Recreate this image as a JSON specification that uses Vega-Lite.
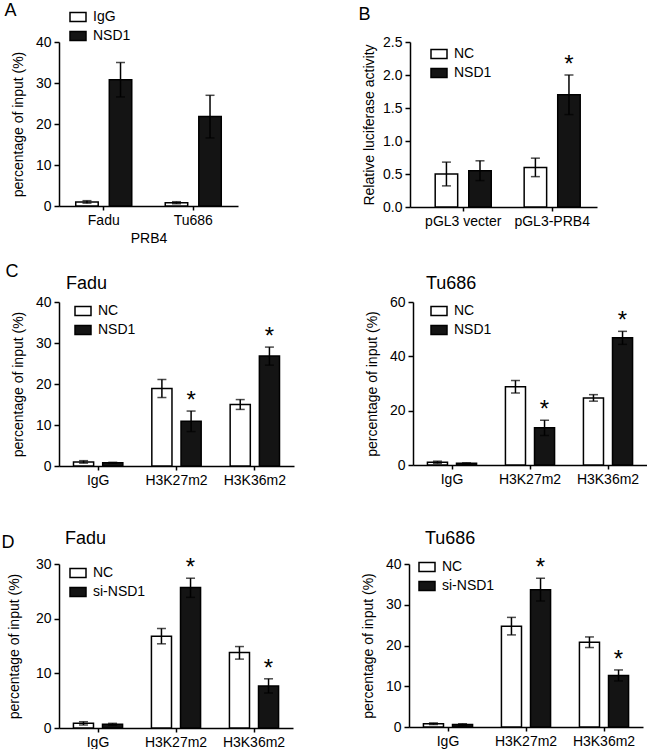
{
"$schema":"https://vega.github.io/schema/vega-lite/v6.json",
"padding":{"left":1,"top":2,"right":0,"bottom":0},
"data":{"values":[
{"panel":"A","group":"Fadu","series":"IgG","value":1.0,"lo":0.7,"hi":1.3,"star":""},
{"panel":"A","group":"Fadu","series":"NSD1","value":30.8,"lo":26.6,"hi":35.0,"star":""},
{"panel":"A","group":"Tu686","series":"IgG","value":0.8,"lo":0.55,"hi":1.05,"star":""},
{"panel":"A","group":"Tu686","series":"NSD1","value":21.8,"lo":16.6,"hi":27.0,"star":""},
{"panel":"B","group":"pGL3 vecter","series":"NC","value":0.5,"lo":0.32,"hi":0.68,"star":""},
{"panel":"B","group":"pGL3 vecter","series":"NSD1","value":0.55,"lo":0.4,"hi":0.7,"star":""},
{"panel":"B","group":"pGL3-PRB4","series":"NC","value":0.6,"lo":0.46,"hi":0.74,"star":""},
{"panel":"B","group":"pGL3-PRB4","series":"NSD1","value":1.7,"lo":1.4,"hi":2.0,"star":"*"},
{"panel":"C1","group":"IgG","series":"NC","value":1.0,"lo":0.7,"hi":1.3,"star":""},
{"panel":"C1","group":"IgG","series":"NSD1","value":0.8,"lo":0.7,"hi":0.9,"star":""},
{"panel":"C1","group":"H3K27m2","series":"NC","value":18.9,"lo":16.7,"hi":21.1,"star":""},
{"panel":"C1","group":"H3K27m2","series":"NSD1","value":10.9,"lo":8.4,"hi":13.4,"star":"*"},
{"panel":"C1","group":"H3K36m2","series":"NC","value":15.0,"lo":13.8,"hi":16.2,"star":""},
{"panel":"C1","group":"H3K36m2","series":"NSD1","value":26.8,"lo":24.6,"hi":29.0,"star":"*"},
{"panel":"C2","group":"IgG","series":"NC","value":1.0,"lo":0.6,"hi":1.4,"star":""},
{"panel":"C2","group":"IgG","series":"NSD1","value":0.6,"lo":0.4,"hi":0.8,"star":""},
{"panel":"C2","group":"H3K27m2","series":"NC","value":28.8,"lo":26.5,"hi":31.1,"star":""},
{"panel":"C2","group":"H3K27m2","series":"NSD1","value":13.7,"lo":10.9,"hi":16.5,"star":"*"},
{"panel":"C2","group":"H3K36m2","series":"NC","value":24.7,"lo":23.5,"hi":25.9,"star":""},
{"panel":"C2","group":"H3K36m2","series":"NSD1","value":46.8,"lo":44.4,"hi":49.2,"star":"*"},
{"panel":"D1","group":"IgG","series":"NC","value":0.85,"lo":0.55,"hi":1.15,"star":""},
{"panel":"D1","group":"IgG","series":"si-NSD1","value":0.67,"lo":0.5,"hi":0.85,"star":""},
{"panel":"D1","group":"H3K27m2","series":"NC","value":16.8,"lo":15.4,"hi":18.2,"star":""},
{"panel":"D1","group":"H3K27m2","series":"si-NSD1","value":25.7,"lo":23.9,"hi":27.4,"star":"*"},
{"panel":"D1","group":"H3K36m2","series":"NC","value":13.8,"lo":12.6,"hi":14.9,"star":""},
{"panel":"D1","group":"H3K36m2","series":"si-NSD1","value":7.7,"lo":6.4,"hi":9.0,"star":"*"},
{"panel":"D2","group":"IgG","series":"NC","value":0.8,"lo":0.6,"hi":1.0,"star":""},
{"panel":"D2","group":"IgG","series":"si-NSD1","value":0.6,"lo":0.4,"hi":0.8,"star":""},
{"panel":"D2","group":"H3K27m2","series":"NC","value":24.7,"lo":22.6,"hi":26.9,"star":""},
{"panel":"D2","group":"H3K27m2","series":"si-NSD1","value":33.7,"lo":30.9,"hi":36.5,"star":"*"},
{"panel":"D2","group":"H3K36m2","series":"NC","value":20.8,"lo":19.5,"hi":22.1,"star":""},
{"panel":"D2","group":"H3K36m2","series":"si-NSD1","value":12.65,"lo":11.3,"hi":14.0,"star":"*"}
]},
"config":{
"view":{"stroke":null},
"font":"Liberation Sans",
"axis":{"domainColor":"black","domainWidth":1.5,"tickColor":"black","tickWidth":1.5,"tickSize":5,"labelColor":"black","labelFontSize":14,"labelFont":"Liberation Sans","titleFont":"Liberation Sans","titleFontSize":14,"titleFontWeight":"normal","titleColor":"black","grid":false,"labelPadding":3},
"axisX":{"labelAngle":0,"tickSize":4},
"legend":{"orient":"none","title":null,"labelFontSize":14,"labelFont":"Liberation Sans","labelColor":"black","symbolType":"M-1,-0.55L1,-0.55L1,0.55L-1,0.55Z","symbolSize":256,"symbolStrokeColor":"black","symbolStrokeWidth":1.5,"rowPadding":2,"labelOffset":6,"padding":0},
"title":{"font":"Liberation Sans","fontWeight":"normal","color":"black","fontSize":18}
},
"resolve":{"scale":{"fill":"independent","xOffset":"independent"},"legend":{"fill":"independent"}},
"spacing":18,
"vconcat":[
{"resolve":{"scale":{"fill":"independent","xOffset":"independent"},"legend":{"fill":"independent"}},
"hconcat":[
{"width":179,"height":164,
"title":{"text":"A","anchor":"start","frame":"bounds","offset":-12,"dx":-7},
"transform":[{"filter":"datum.panel === 'A'"}],
"encoding":{
"x":{"field":"group","type":"nominal","sort":null,"title":"PRB4","scale":{"paddingInner":0.374,"paddingOuter":0.187},"axis":{"titlePadding":4}},
"xOffset":{"field":"series","type":"nominal","sort":null,"scale":{"paddingInner":0.33,"paddingOuter":0}}},
"layer":[
{"mark":{"type":"bar","stroke":"black","strokeWidth":1.5},"encoding":{"y":{"field":"value","type":"quantitative","title":"percentage of input (%)","scale":{"domain":[0,40],"nice":false},"axis":{"values":[0,10,20,30,40],"titlePadding":10}},"fill":{"field":"series","type":"nominal","scale":{"domain":["IgG","NSD1"],"range":["white","#141414"]},"legend":{"legendX":10,"legendY":-34}}}},
{"mark":{"type":"rule","color":"black","strokeWidth":1.5},"encoding":{"y":{"field":"lo","type":"quantitative","title":"percentage of input (%)","axis":{"values":[0,10,20,30,40],"titlePadding":10}},"y2":{"field":"hi"}}},
{"mark":{"type":"tick","orient":"horizontal","color":"black","size":9,"thickness":1.5},"encoding":{"y":{"field":"hi","type":"quantitative","title":"percentage of input (%)","axis":{"values":[0,10,20,30,40],"titlePadding":10}}}},
{"mark":{"type":"tick","orient":"horizontal","color":"black","size":9,"thickness":1.5},"encoding":{"y":{"field":"lo","type":"quantitative","title":"percentage of input (%)","axis":{"values":[0,10,20,30,40],"titlePadding":10}}}}
]},
{"width":187,"height":165,
"title":{"text":"B","anchor":"start","frame":"bounds","offset":11,"dx":-4},
"transform":[{"filter":"datum.panel === 'B'"}],
"encoding":{
"x":{"field":"group","type":"nominal","sort":null,"title":null,"scale":{"paddingInner":0.37,"paddingOuter":0.236,"align":0.6}},
"xOffset":{"field":"series","type":"nominal","sort":null,"scale":{"paddingInner":0.33,"paddingOuter":0}}},
"layer":[
{"mark":{"type":"bar","stroke":"black","strokeWidth":1.5},"encoding":{"y":{"field":"value","type":"quantitative","title":"Relative luciferase activity","scale":{"domain":[0,2.5],"nice":false},"axis":{"values":[0,0.5,1,1.5,2,2.5],"format":".1f","titlePadding":6}},"fill":{"field":"series","type":"nominal","scale":{"domain":["NC","NSD1"],"range":["white","#141414"]},"legend":{"legendX":20,"legendY":3}}}},
{"mark":{"type":"rule","color":"black","strokeWidth":1.5},"encoding":{"y":{"field":"lo","type":"quantitative","title":"Relative luciferase activity","axis":{"values":[0,0.5,1,1.5,2,2.5],"format":".1f","titlePadding":6}},"y2":{"field":"hi"}}},
{"mark":{"type":"tick","orient":"horizontal","color":"black","size":9,"thickness":1.5},"encoding":{"y":{"field":"hi","type":"quantitative","title":"Relative luciferase activity","axis":{"values":[0,0.5,1,1.5,2,2.5],"format":".1f","titlePadding":6}}}},
{"mark":{"type":"tick","orient":"horizontal","color":"black","size":9,"thickness":1.5},"encoding":{"y":{"field":"lo","type":"quantitative","title":"Relative luciferase activity","axis":{"values":[0,0.5,1,1.5,2,2.5],"format":".1f","titlePadding":6}}}},
{"transform":[{"filter":"datum.star === '*'"}],"mark":{"type":"text","text":"*","fontSize":24,"baseline":"alphabetic","dy":-3,"color":"black","font":"Liberation Sans"},"encoding":{"y":{"field":"hi","type":"quantitative","title":"Relative luciferase activity","axis":{"values":[0,0.5,1,1.5,2,2.5],"format":".1f","titlePadding":6}}}}
]}
],"spacing":120},
{"spacing":43,
"resolve":{"scale":{"fill":"independent","xOffset":"independent"},"legend":{"fill":"independent"}},
"vconcat":[
{"title":{"text":"C","anchor":"start","offset":-6,"dx":-6},"spacing":71,
"resolve":{"scale":{"fill":"independent","xOffset":"independent"},"legend":{"fill":"independent"}},
"hconcat":[
{"width":235,"height":164,
"title":{"text":"Fadu","anchor":"start","frame":"group","offset":2,"dx":7},
"transform":[{"filter":"datum.panel === 'C1'"}],
"encoding":{
"x":{"field":"group","type":"nominal","sort":null,"title":null,"scale":{"paddingInner":0.37,"paddingOuter":0.185}},
"xOffset":{"field":"series","type":"nominal","sort":null,"scale":{"paddingInner":0.31,"paddingOuter":0}}},
"layer":[
{"mark":{"type":"bar","stroke":"black","strokeWidth":1.5},"encoding":{"y":{"field":"value","type":"quantitative","title":"percentage of input (%)","scale":{"domain":[0,40],"nice":false},"axis":{"values":[0,10,20,30,40],"titlePadding":10}},"fill":{"field":"series","type":"nominal","scale":{"domain":["NC","NSD1"],"range":["white","#141414"]},"legend":{"legendX":15,"legendY":0}}}},
{"mark":{"type":"rule","color":"black","strokeWidth":1.5},"encoding":{"y":{"field":"lo","type":"quantitative","title":"percentage of input (%)","axis":{"values":[0,10,20,30,40],"titlePadding":10}},"y2":{"field":"hi"}}},
{"mark":{"type":"tick","orient":"horizontal","color":"black","size":9,"thickness":1.5},"encoding":{"y":{"field":"hi","type":"quantitative","title":"percentage of input (%)","axis":{"values":[0,10,20,30,40],"titlePadding":10}}}},
{"mark":{"type":"tick","orient":"horizontal","color":"black","size":9,"thickness":1.5},"encoding":{"y":{"field":"lo","type":"quantitative","title":"percentage of input (%)","axis":{"values":[0,10,20,30,40],"titlePadding":10}}}},
{"transform":[{"filter":"datum.star === '*'"}],"mark":{"type":"text","text":"*","fontSize":24,"baseline":"alphabetic","dy":-3,"color":"black","font":"Liberation Sans"},"encoding":{"y":{"field":"hi","type":"quantitative","title":"percentage of input (%)","axis":{"values":[0,10,20,30,40],"titlePadding":10}}}}
]},
{"width":234,"height":163,
"title":{"text":"Tu686","anchor":"start","frame":"group","offset":2,"dx":13},
"transform":[{"filter":"datum.panel === 'C2'"}],
"encoding":{
"x":{"field":"group","type":"nominal","sort":null,"title":null,"scale":{"paddingInner":0.37,"paddingOuter":0.185}},
"xOffset":{"field":"series","type":"nominal","sort":null,"scale":{"paddingInner":0.31,"paddingOuter":0}}},
"layer":[
{"mark":{"type":"bar","stroke":"black","strokeWidth":1.5},"encoding":{"y":{"field":"value","type":"quantitative","title":"percentage of input (%)","scale":{"domain":[0,60],"nice":false},"axis":{"values":[0,20,40,60],"titlePadding":10}},"fill":{"field":"series","type":"nominal","scale":{"domain":["NC","NSD1"],"range":["white","#141414"]},"legend":{"legendX":17,"legendY":0}}}},
{"mark":{"type":"rule","color":"black","strokeWidth":1.5},"encoding":{"y":{"field":"lo","type":"quantitative","title":"percentage of input (%)","axis":{"values":[0,20,40,60],"titlePadding":10}},"y2":{"field":"hi"}}},
{"mark":{"type":"tick","orient":"horizontal","color":"black","size":9,"thickness":1.5},"encoding":{"y":{"field":"hi","type":"quantitative","title":"percentage of input (%)","axis":{"values":[0,20,40,60],"titlePadding":10}}}},
{"mark":{"type":"tick","orient":"horizontal","color":"black","size":9,"thickness":1.5},"encoding":{"y":{"field":"lo","type":"quantitative","title":"percentage of input (%)","axis":{"values":[0,20,40,60],"titlePadding":10}}}},
{"transform":[{"filter":"datum.star === '*'"}],"mark":{"type":"text","text":"*","fontSize":24,"baseline":"alphabetic","dy":-3,"color":"black","font":"Liberation Sans"},"encoding":{"y":{"field":"hi","type":"quantitative","title":"percentage of input (%)","axis":{"values":[0,20,40,60],"titlePadding":10}}}}
]}
]},
{"title":{"text":"D","anchor":"start","offset":-22,"dx":-6},"spacing":68,
"resolve":{"scale":{"fill":"independent","xOffset":"independent"},"legend":{"fill":"independent"}},
"hconcat":[
{"width":234,"height":164,
"title":{"text":"Fadu","anchor":"start","frame":"group","offset":8,"dx":6},
"transform":[{"filter":"datum.panel === 'D1'"}],
"encoding":{
"x":{"field":"group","type":"nominal","sort":null,"title":null,"scale":{"paddingInner":0.37,"paddingOuter":0.185}},
"xOffset":{"field":"series","type":"nominal","sort":null,"scale":{"paddingInner":0.31,"paddingOuter":0}}},
"layer":[
{"mark":{"type":"bar","stroke":"black","strokeWidth":1.5},"encoding":{"y":{"field":"value","type":"quantitative","title":"percentage of input (%)","scale":{"domain":[0,30],"nice":false},"axis":{"values":[0,10,20,30],"titlePadding":14}},"fill":{"field":"series","type":"nominal","scale":{"domain":["NC","si-NSD1"],"range":["white","#141414"]},"legend":{"legendX":10,"legendY":0}}}},
{"mark":{"type":"rule","color":"black","strokeWidth":1.5},"encoding":{"y":{"field":"lo","type":"quantitative","title":"percentage of input (%)","axis":{"values":[0,10,20,30],"titlePadding":14}},"y2":{"field":"hi"}}},
{"mark":{"type":"tick","orient":"horizontal","color":"black","size":9,"thickness":1.5},"encoding":{"y":{"field":"hi","type":"quantitative","title":"percentage of input (%)","axis":{"values":[0,10,20,30],"titlePadding":14}}}},
{"mark":{"type":"tick","orient":"horizontal","color":"black","size":9,"thickness":1.5},"encoding":{"y":{"field":"lo","type":"quantitative","title":"percentage of input (%)","axis":{"values":[0,10,20,30],"titlePadding":14}}}},
{"transform":[{"filter":"datum.star === '*'"}],"mark":{"type":"text","text":"*","fontSize":24,"baseline":"alphabetic","dy":-3,"color":"black","font":"Liberation Sans"},"encoding":{"y":{"field":"hi","type":"quantitative","title":"percentage of input (%)","axis":{"values":[0,10,20,30],"titlePadding":14}}}}
]},
{"width":234,"height":163,
"title":{"text":"Tu686","anchor":"start","frame":"group","offset":8,"dx":16},
"transform":[{"filter":"datum.panel === 'D2'"}],
"encoding":{
"x":{"field":"group","type":"nominal","sort":null,"title":null,"scale":{"paddingInner":0.37,"paddingOuter":0.185}},
"xOffset":{"field":"series","type":"nominal","sort":null,"scale":{"paddingInner":0.31,"paddingOuter":0}}},
"layer":[
{"mark":{"type":"bar","stroke":"black","strokeWidth":1.5},"encoding":{"y":{"field":"value","type":"quantitative","title":"percentage of input (%)","scale":{"domain":[0,40],"nice":false},"axis":{"values":[0,10,20,30,40],"titlePadding":10}},"fill":{"field":"series","type":"nominal","scale":{"domain":["NC","si-NSD1"],"range":["white","#141414"]},"legend":{"legendX":9,"legendY":-6}}}},
{"mark":{"type":"rule","color":"black","strokeWidth":1.5},"encoding":{"y":{"field":"lo","type":"quantitative","title":"percentage of input (%)","axis":{"values":[0,10,20,30,40],"titlePadding":10}},"y2":{"field":"hi"}}},
{"mark":{"type":"tick","orient":"horizontal","color":"black","size":9,"thickness":1.5},"encoding":{"y":{"field":"hi","type":"quantitative","title":"percentage of input (%)","axis":{"values":[0,10,20,30,40],"titlePadding":10}}}},
{"mark":{"type":"tick","orient":"horizontal","color":"black","size":9,"thickness":1.5},"encoding":{"y":{"field":"lo","type":"quantitative","title":"percentage of input (%)","axis":{"values":[0,10,20,30,40],"titlePadding":10}}}},
{"transform":[{"filter":"datum.star === '*'"}],"mark":{"type":"text","text":"*","fontSize":24,"baseline":"alphabetic","dy":-3,"color":"black","font":"Liberation Sans"},"encoding":{"y":{"field":"hi","type":"quantitative","title":"percentage of input (%)","axis":{"values":[0,10,20,30,40],"titlePadding":10}}}}
]}
]}
]}
]
}
